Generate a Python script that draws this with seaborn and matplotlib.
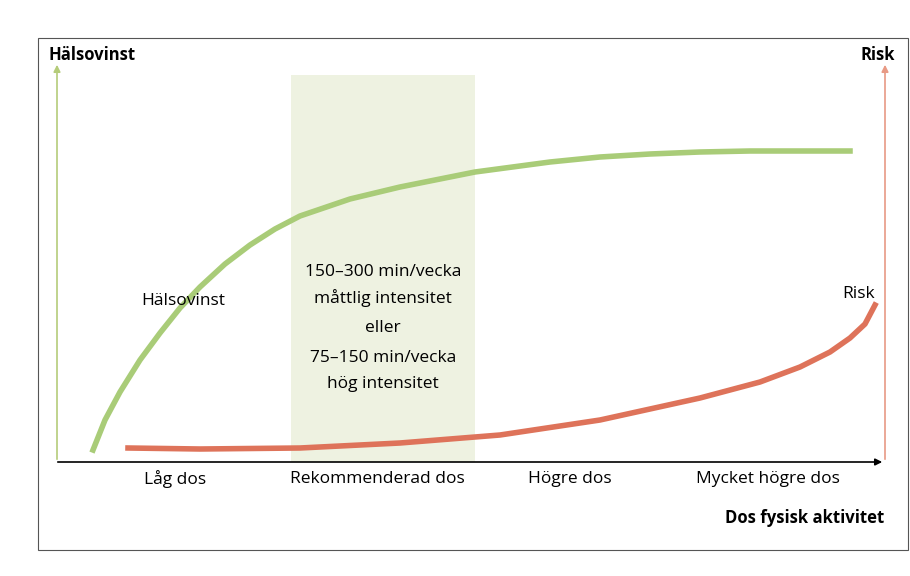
import matplotlib
matplotlib.use("Agg")
import matplotlib.pyplot as plt
import seaborn as sns
import pandas as pd

# curve points (x, y in image pixels)
gain_x = [93, 105, 120, 140, 160, 180, 200, 225, 250, 275, 300, 350, 400, 475, 550, 600, 650, 700, 750, 850]
gain_y = [450, 420, 392, 360, 333, 308, 287, 264, 245, 229, 216, 199, 187, 172, 162, 157, 154, 152, 151, 151]
risk_x = [128, 200, 300, 400, 500, 600, 700, 760, 800, 830, 850, 865, 875]
risk_y = [448, 449, 448, 443, 435, 420, 398, 382, 367, 352, 338, 324, 305]

dose_labels = ["Låg dos", "Rekommenderad dos", "Högre dos", "Mycket högre dos"]
dose_pos = [175, 377, 570, 768]

plt.rcParams["font.family"] = "Open Sans"
fig = plt.figure(figsize=(9.1, 5.76), dpi=100)
ax = fig.add_axes([0, 0, 1, 1])

# outer frame
ax.add_patch(plt.Rectangle((38, 38), 870, 512, fill=False, ec="#555555", lw=0.8))
# recommended zone
ax.add_patch(plt.Rectangle((291, 75), 184, 387, color="#eef2e1", lw=0))

# axes arrows
ax.annotate("", xy=(57, 62), xytext=(57, 462),
            arrowprops=dict(arrowstyle="-|>", color="#b5cc7a", lw=1.2))
ax.annotate("", xy=(885, 62), xytext=(885, 462),
            arrowprops=dict(arrowstyle="-|>", color="#e89a85", lw=1.2))
ax.annotate("", xy=(885, 462), xytext=(55, 462),
            arrowprops=dict(arrowstyle="-|>", color="black", lw=1.2))

df_g = pd.DataFrame({"x": gain_x, "y": gain_y})
df_r = pd.DataFrame({"x": risk_x, "y": risk_y})
sns.lineplot(data=df_g, x="x", y="y", ax=ax, color="#a9cc78", lw=4, sort=False)
sns.lineplot(data=df_r, x="x", y="y", ax=ax, color="#de735a", lw=4, sort=False)
ax.set_xlim(0, 910)
ax.set_ylim(576, 0)
ax.axis("off")

ax.text(48, 55, "Hälsovinst", fontsize=12, fontweight="bold", va="center")
ax.text(895, 55, "Risk", fontsize=12, fontweight="bold", va="center", ha="right")
ax.text(884, 518, "Dos fysisk aktivitet", fontsize=12, fontweight="bold", va="center", ha="right")
ax.text(183, 301, "Hälsovinst", fontsize=12.5, va="center", ha="center")
ax.text(859, 294, "Risk", fontsize=12.5, va="center", ha="center")
for lbl, p in zip(dose_labels, dose_pos):
    ax.text(p, 479, lbl, fontsize=12.5, va="center", ha="center")

for t, yy in [("150–300 min/vecka", 272), ("måttlig intensitet", 298),
              ("eller", 328), ("75–150 min/vecka", 358), ("hög intensitet", 384)]:
    ax.text(383, yy, t, fontsize=12.5, va="center", ha="center")

fig.savefig("out.png", dpi=100)
